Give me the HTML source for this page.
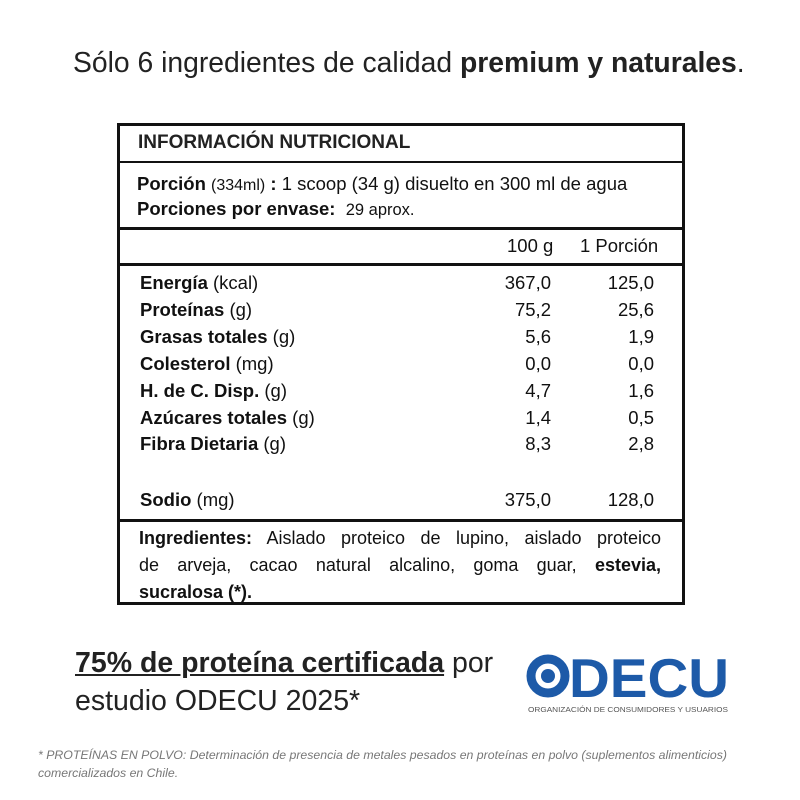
<!DOCTYPE html>
<html><head><meta charset="utf-8"><style>
body{margin:0;width:800px;height:800px;background:#fff;position:relative;overflow:hidden;font-family:"Liberation Sans",sans-serif;color:#111}
.a{position:absolute;white-space:nowrap}
.t{font-size:18.5px;color:#111}
.r{text-align:right}
b{font-weight:bold}
.hl{position:absolute;left:117px;width:568px;background:#111}
.j{display:block;text-align:justify;text-align-last:justify}
</style></head><body>
<div class="a" style="left:73px;top:46px;font-size:28.3px;color:#222">Sólo 6 ingredientes de calidad <b>premium y naturales</b>.</div>

<div style="position:absolute;left:117px;top:123px;width:562px;height:476px;border:3px solid #111"></div>
<div class="hl" style="top:161px;height:2px"></div>
<div class="hl" style="top:227px;height:3px"></div>
<div class="hl" style="top:263px;height:3px"></div>
<div class="hl" style="top:519px;height:3px"></div>

<div class="a t" style="left:138px;top:132px;font-size:19px;color:#222;font-weight:bold">INFORMACIÓN NUTRICIONAL</div>
<div class="a t" style="left:137px;top:173px"><b>Porción</b> <span style="font-size:16px">(334ml)</span> <b>:</b> 1 scoop (34 g) disuelto en 300 ml de agua</div>
<div class="a t" style="left:137px;top:198px"><b>Porciones por envase:</b>&nbsp; <span style="font-size:16.5px">29 aprox.</span></div>
<div class="a t" style="left:507px;top:235px">100 g</div>
<div class="a t" style="left:580px;top:235px">1 Porción</div>

<div class="a t" style="left:140px;top:272px"><b>Energía</b> (kcal)</div>
<div class="a t" style="left:140px;top:299px"><b>Proteínas</b> (g)</div>
<div class="a t" style="left:140px;top:326px"><b>Grasas totales</b> (g)</div>
<div class="a t" style="left:140px;top:353px"><b>Colesterol</b> (mg)</div>
<div class="a t" style="left:140px;top:380px"><b>H. de C. Disp.</b> (g)</div>
<div class="a t" style="left:140px;top:407px"><b>Azúcares totales</b> (g)</div>
<div class="a t" style="left:140px;top:433px"><b>Fibra Dietaria</b> (g)</div>
<div class="a t" style="left:140px;top:489px"><b>Sodio</b> (mg)</div>

<div class="a t r" style="left:451px;width:100px;top:272px">367,0</div>
<div class="a t r" style="left:451px;width:100px;top:299px">75,2</div>
<div class="a t r" style="left:451px;width:100px;top:326px">5,6</div>
<div class="a t r" style="left:451px;width:100px;top:353px">0,0</div>
<div class="a t r" style="left:451px;width:100px;top:380px">4,7</div>
<div class="a t r" style="left:451px;width:100px;top:407px">1,4</div>
<div class="a t r" style="left:451px;width:100px;top:433px">8,3</div>
<div class="a t r" style="left:451px;width:100px;top:489px">375,0</div>
<div class="a t r" style="left:554px;width:100px;top:272px">125,0</div>
<div class="a t r" style="left:554px;width:100px;top:299px">25,6</div>
<div class="a t r" style="left:554px;width:100px;top:326px">1,9</div>
<div class="a t r" style="left:554px;width:100px;top:353px">0,0</div>
<div class="a t r" style="left:554px;width:100px;top:380px">1,6</div>
<div class="a t r" style="left:554px;width:100px;top:407px">0,5</div>
<div class="a t r" style="left:554px;width:100px;top:433px">2,8</div>
<div class="a t r" style="left:554px;width:100px;top:489px">128,0</div>

<div class="a t" style="left:139px;top:525px;width:522px;white-space:normal;line-height:27px;font-size:18px">
<span class="j"><b>Ingredientes:</b> Aislado proteico de lupino, aislado proteico</span>
<span class="j">de arveja, cacao natural alcalino, goma guar, <b>estevia,</b></span>
<span style="display:block"><b>sucralosa (*).</b></span></div>

<div class="a" style="left:75px;top:647px;font-size:28.5px;color:#222"><b style="text-decoration:underline">75% de proteína certificada</b> por</div>
<div class="a" style="left:75px;top:685px;font-size:28.5px;color:#222">estudio ODECU 2025*</div>

<svg class="a" style="left:520px;top:650px" width="220" height="70">
<circle cx="28" cy="26" r="17" fill="none" stroke="#1d5aa8" stroke-width="9"/>
<circle cx="28" cy="26" r="7" fill="#1d5aa8"/>
<text x="49" y="47" font-family="Liberation Sans" font-weight="bold" font-size="55" fill="#1d5aa8" textLength="160" lengthAdjust="spacingAndGlyphs">DECU</text>
<text x="8" y="62" font-family="Liberation Sans" font-size="7.5" fill="#555" textLength="200" lengthAdjust="spacingAndGlyphs">ORGANIZACIÓN DE CONSUMIDORES Y USUARIOS</text>
</svg>

<div class="a" style="left:38px;top:746px;font-size:12.3px;font-style:italic;color:#777;line-height:18px">* PROTEÍNAS EN POLVO: Determinación de presencia de metales pesados en proteínas en polvo (suplementos alimenticios)<br>comercializados en Chile.</div>
</body></html>
